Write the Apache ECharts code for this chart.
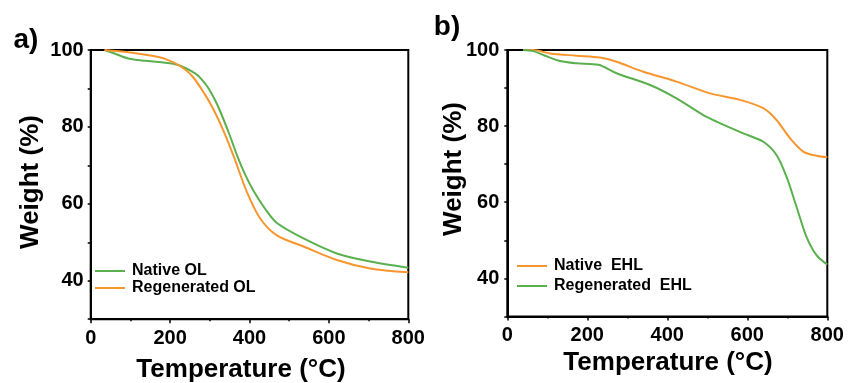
<!DOCTYPE html>
<html>
<head>
<meta charset="utf-8">
<script src="https://cdn.jsdelivr.net/npm/echarts@6/dist/echarts.min.js"></script>
<style>html,body{margin:0;padding:0;background:#fff}#c{width:848px;height:383px}</style>
</head>
<body>
<div id="c"></div>
<script>
// Panel a (OL)
const tempA_native = [35, 60, 95, 137, 179, 221, 263, 280, 297, 315, 330, 350, 370, 390, 410, 440, 469, 536, 620, 704, 800];
const weightA_native = [100, 99.1, 97.8, 97.2, 96.8, 96.1, 93.9, 92.3, 90, 86.6, 83.1, 77.9, 72.2, 67.4, 63.4, 58.6, 55.0, 51, 47.1, 45, 43.4];
const tempA_regen = [35, 95, 154, 187, 221, 255, 288, 310, 334, 360, 393, 427, 469, 536, 620, 704, 800];
const weightA_regen = [100, 99.4, 98.5, 97.7, 96.1, 93.3, 88.4, 84.4, 79.1, 72.4, 63.2, 56.2, 51.8, 48.9, 45.4, 43.2, 42.2];
// Panel b (EHL)
const tempB_native = [40, 65, 107, 173, 232, 273, 340, 423, 507, 582, 640, 673, 707, 740, 773, 800];
const weightB_native = [100, 100, 99.1, 98.5, 98, 96.9, 94.3, 91.7, 88.6, 86.9, 84.7, 81.6, 76.8, 73.3, 72.2, 71.8];
const tempB_regen = [40, 65, 90, 132, 173, 228, 273, 357, 423, 490, 523, 590, 640, 673, 698, 723, 748, 773, 800];
const weightB_regen = [100, 99.7, 98.7, 97.1, 96.5, 96.1, 93.9, 90.8, 87.3, 82.9, 81.2, 78.1, 75.9, 72.4, 66.7, 58.8, 50.9, 46.1, 43.6];

const seriesNames = ['Native OL', 'Regenerated OL', 'Native  EHL', 'Regenerated  EHL'];
const xTitle = 'Temperature (°C)';
const yTitle = 'Weight (%)';
const panelLabels = ['a)', 'b)'];

const GREEN = '#5AB04D';
const ORANGE = '#F7962E';
const FONT = '"Liberation Sans", Arial, sans-serif';

function pairs(t, w) { return t.map((v, i) => [v, w[i]]); }

function xAxisCfg(idx) {
  return {
    type: 'value', gridIndex: idx, min: 0, max: 800, interval: 200,
    axisLine: { show: true, onZero: false, lineStyle: { color: '#000', width: 2 } },
    axisTick: { show: true, length: 4, lineStyle: { color: '#000', width: 1.5 } },
    minorTick: { show: true, splitNumber: 2, length: 2, lineStyle: { color: '#000', width: 1.5 } },
    splitLine: { show: false },
    axisLabel: { color: '#000', fontSize: 20, fontWeight: 'bold', fontFamily: FONT, margin: 9 }
  };
}
function yAxisCfg(idx, margin) {
  return {
    type: 'value', gridIndex: idx, min: 30, max: 100, interval: 10,
    axisLine: { show: true, lineStyle: { color: '#000', width: 2 } },
    axisTick: { show: true, length: 3, lineStyle: { color: '#000', width: 1.5 } },
    splitLine: { show: false },
    axisLabel: {
      color: '#000', fontSize: 20, fontWeight: 'bold', fontFamily: FONT, margin: margin,
      formatter: v => (v % 20 === 0 ? String(v) : '')
    }
  };
}
function lineSeries(name, xi, data, color) {
  return {
    name: name, type: 'line', xAxisIndex: xi, yAxisIndex: xi, data: data,
    symbol: 'none', showSymbol: false, smooth: 0.3,
    lineStyle: { color: color, width: 2 }, itemStyle: { color: color },
    emphasis: { disabled: true }, animation: false
  };
}
function legendCfg(names, left, top, gap) {
  return {
    data: names.map(n => ({ name: n, icon: 'rect' })), orient: 'vertical', left: left, top: top,
    padding: 0, itemWidth: 30, itemHeight: 2, itemGap: gap,
    textStyle: { color: '#000', fontSize: 16, fontWeight: 'bold', fontFamily: FONT, lineHeight: 17, padding: [0, 0, 0, 2] },
    selectedMode: false
  };
}

const chart = echarts.init(document.getElementById('c'), null, { renderer: 'canvas' });
chart.setOption({
  animation: false,
  backgroundColor: '#fff',
  grid: [
    { left: 90.7, top: 50, width: 317.6, height: 269.2, show: true, borderColor: '#000', borderWidth: 2, backgroundColor: 'transparent' },
    { left: 507.3, top: 50, width: 320, height: 266.4, show: true, borderColor: '#000', borderWidth: 2, backgroundColor: 'transparent' }
  ],
  xAxis: [xAxisCfg(0), xAxisCfg(1)],
  yAxis: [yAxisCfg(0, 7), yAxisCfg(1, 8)],
  legend: [
    legendCfg([seriesNames[0], seriesNames[1]], 95, 262.5, 0),
    legendCfg([seriesNames[2], seriesNames[3]], 517, 257.5, 3)
  ],
  series: [
    lineSeries(seriesNames[0], 0, pairs(tempA_native, weightA_native), GREEN),
    lineSeries(seriesNames[1], 0, pairs(tempA_regen, weightA_regen), ORANGE),
    lineSeries(seriesNames[2], 1, pairs(tempB_native, weightB_native), ORANGE),
    lineSeries(seriesNames[3], 1, pairs(tempB_regen, weightB_regen), GREEN)
  ],
  graphic: [
    { type: 'text', x: 241, y: 370, style: { text: xTitle, fill: '#000', font: 'bold 26px ' + FONT, textAlign: 'center', textVerticalAlign: 'middle' } },
    { type: 'text', x: 668, y: 363, style: { text: xTitle, fill: '#000', font: 'bold 26px ' + FONT, textAlign: 'center', textVerticalAlign: 'middle' } },
    { type: 'text', x: 31, y: 182, rotation: Math.PI / 2, style: { text: yTitle, fill: '#000', font: 'bold 26px ' + FONT, textAlign: 'center', textVerticalAlign: 'middle' } },
    { type: 'text', x: 454, y: 169, rotation: Math.PI / 2, style: { text: yTitle, fill: '#000', font: 'bold 26px ' + FONT, textAlign: 'center', textVerticalAlign: 'middle' } },
    { type: 'text', x: 26, y: 40, style: { text: panelLabels[0], fill: '#000', font: 'bold 28px ' + FONT, textAlign: 'center', textVerticalAlign: 'middle' } },
    { type: 'text', x: 447, y: 27, style: { text: panelLabels[1], fill: '#000', font: 'bold 28px ' + FONT, textAlign: 'center', textVerticalAlign: 'middle' } }
  ]
});
</script>
</body>
</html>
